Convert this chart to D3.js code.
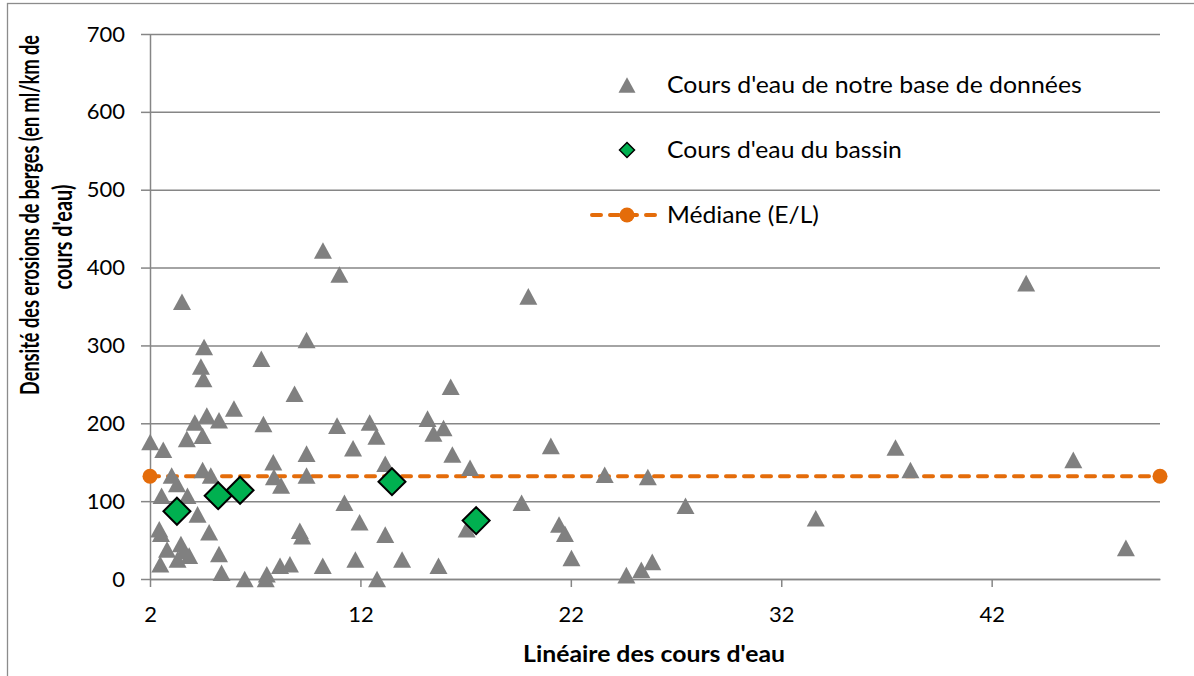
<!DOCTYPE html>
<html>
<head>
<meta charset="utf-8">
<script src="https://cdn.jsdelivr.net/npm/d3@7"></script>
<style>
  body { margin: 0; background: #fff; }
  text { font-family: Lato, 'Open Sans', sans-serif; fill: #000; }
</style>
</head>
<body>
<div id="chart"></div>
<script>
// cours d'eau de notre base de données : [linéaire, densité]
const basePoints = [
  [2.01, 176], [2.63, 166], [3.52, 356], [4.57, 298], [4.42, 273], [4.54, 257],
  [7.29, 283], [8.87, 238], [9.44, 307], [5.99, 219], [4.70, 210], [4.13, 201],
  [5.28, 204], [7.39, 199], [3.75, 180], [4.50, 184], [9.44, 161], [7.86, 150],
  [4.50, 140], [4.89, 133], [3.03, 133], [3.28, 122], [7.89, 131], [8.23, 120],
  [9.44, 133], [2.55, 107], [3.78, 107], [4.26, 83], [2.44, 64], [2.52, 58],
  [4.81, 60], [9.12, 62], [9.23, 55], [2.81, 38], [3.47, 45], [3.59, 36],
  [3.86, 30], [3.31, 25], [2.49, 19], [5.28, 32], [5.40, 8], [6.50, 0],
  [7.55, 6], [7.50, 0], [8.18, 17], [8.65, 19],
  [10.22, 422], [11.00, 391], [16.29, 247], [10.89, 197], [12.44, 201], [12.76, 183],
  [15.19, 206], [15.95, 194], [15.47, 187], [11.65, 168], [16.37, 160], [17.21, 143],
  [13.18, 148], [11.24, 98], [11.96, 73], [13.18, 57], [17.05, 64], [10.21, 17],
  [11.76, 25], [13.98, 25], [15.71, 17], [12.79, 0],
  [19.98, 363], [21.05, 171], [23.61, 134], [25.66, 131], [19.66, 98], [21.44, 70],
  [21.72, 58], [22.03, 27], [24.64, 5], [25.35, 12], [25.87, 22], [27.45, 94],
  [43.64, 380], [37.43, 169], [38.14, 140], [45.88, 153], [33.64, 78], [48.38, 40]
];

// cours d'eau du bassin
const basinPoints = [
  [3.28, 87], [5.24, 107], [6.28, 114], [13.50, 125], [17.50, 75]
];

const medianValue = 132;

const xDomain = [2, 50];
const yDomain = [0, 700];
const xTicks = [2, 12, 22, 32, 42];
const yTicks = [0, 100, 200, 300, 400, 500, 600, 700];

const xTitle = "Linéaire des cours d'eau";
const yTitle = ["Densité des erosions de berges (en ml/km de", "cours d'eau)"];
const legendLabels = ["Cours d'eau de notre base de données", "Cours d'eau du bassin", "Médiane (E/L)"];

const W = 1194, H = 676;
const gray = '#868686';
const orange = '#E46C0A';
const green = '#00B050';

const svg = d3.select('#chart')
  .append('svg')
  .attr('width', W)
  .attr('height', H);

// étire le texte dans son sens de lecture jusqu'à la largeur voulue
function fitText(sel, place, width) {
  sel.each(function (d, i) {
    const len = this.getComputedTextLength();
    const w = typeof width === 'function' ? width(d, i) : width;
    const p = typeof place === 'function' ? place(d, i) : place;
    d3.select(this).attr('transform', `${p} scale(${w / len},1)`);
  });
}

// cadre du graphique
svg.append('rect')
  .attr('x', 7.5)
  .attr('y', 3.5)
  .attr('width', W)
  .attr('height', H + 10)
  .attr('fill', 'none')
  .attr('stroke', '#8c8c8c')
  .attr('stroke-width', 1.3);

const x = d3.scaleLinear().domain(xDomain).range([150, 1160]);
const y = d3.scaleLinear().domain(yDomain).range([579, 34]);

// triangle façon Excel (centré sur sa boîte)
const triangleType = {
  draw(ctx, size) {
    const w = size, h = size * 0.92;
    ctx.moveTo(0, -h / 2);
    ctx.lineTo(w / 2, h / 2);
    ctx.lineTo(-w / 2, h / 2);
    ctx.closePath();
  }
};
const diamondType = {
  draw(ctx, size) {
    const r = size / 2;
    ctx.moveTo(0, -r);
    ctx.lineTo(r, 0);
    ctx.lineTo(0, r);
    ctx.lineTo(-r, 0);
    ctx.closePath();
  }
};

// quadrillage
svg.append('g')
  .attr('transform', `translate(${x.range()[0]},0)`)
  .call(d3.axisLeft(y).tickValues(yTicks).tickSize(-(x.range()[1] - x.range()[0])).tickFormat(''))
  .call(g => g.select('.domain').remove())
  .call(g => g.selectAll('line').attr('stroke', gray).attr('stroke-width', 1.5));

// axe Y
svg.append('g')
  .attr('transform', `translate(${x.range()[0]},0)`)
  .call(d3.axisLeft(y).tickValues(yTicks).tickSizeInner(9).tickSizeOuter(0).tickPadding(16))
  .call(g => g.select('.domain').attr('stroke', gray).attr('stroke-width', 1.5))
  .call(g => g.selectAll('line').attr('stroke', gray).attr('stroke-width', 1.5))
  .call(g => g.selectAll('text').attr('font-size', 22).attr('font-family', 'Lato'));

// axe X
svg.append('g')
  .attr('transform', `translate(0,${y.range()[0]})`)
  .call(d3.axisBottom(x).tickValues(xTicks).tickSizeInner(8).tickSizeOuter(0).tickPadding(19))
  .call(g => g.select('.domain').attr('stroke', gray).attr('stroke-width', 1.5))
  .call(g => g.selectAll('line').attr('stroke', gray).attr('stroke-width', 1.5))
  .call(g => g.selectAll('text').attr('font-size', 22).attr('font-family', 'Lato'));

// titres des axes
svg.append('text')
  .attr('text-anchor', 'middle')
  .attr('font-size', 22)
  .attr('font-weight', 'bold')
  .text(xTitle)
  .call(fitText, 'translate(654,662)', 262);

svg.selectAll('text.ytitle')
  .data(yTitle)
  .enter()
  .append('text')
  .attr('class', 'ytitle')
  .attr('text-anchor', 'middle')
  .attr('font-size', 26)
  .attr('font-weight', 'bold')
  .text(d => d)
  .call(fitText,
    (d, i) => i === 0 ? 'translate(39,215) rotate(-90)' : 'translate(72,237) rotate(-90)',
    (d, i) => i === 0 ? 360 : 105);

// médiane
const medianData = xDomain.map(d => [d, medianValue]);
svg.append('path')
  .datum(medianData)
  .attr('d', d3.line().x(d => x(d[0])).y(d => y(d[1])))
  .attr('fill', 'none')
  .attr('stroke', orange)
  .attr('stroke-width', 4)
  .attr('stroke-linecap', 'round')
  .attr('stroke-dasharray', '9 9');

svg.append('g')
  .selectAll('circle')
  .data(medianData)
  .enter()
  .append('circle')
  .attr('cx', d => x(d[0]))
  .attr('cy', d => y(d[1]))
  .attr('r', 7.5)
  .attr('fill', orange);

// base de données
svg.append('g')
  .selectAll('path')
  .data(basePoints)
  .enter()
  .append('path')
  .attr('transform', d => `translate(${x(d[0])},${y(d[1])})`)
  .attr('d', d3.symbol().type(triangleType).size(18))
  .attr('fill', '#808080');

// bassin
svg.append('g')
  .selectAll('path')
  .data(basinPoints)
  .enter()
  .append('path')
  .attr('transform', d => `translate(${x(d[0])},${y(d[1])})`)
  .attr('d', d3.symbol().type(diamondType).size(27))
  .attr('fill', green)
  .attr('stroke', '#000')
  .attr('stroke-width', 2)
  .attr('stroke-linejoin', 'miter');

// légende
const legend = svg.append('g');
const legendWidths = [415, 235, 152];
const legendY = [85, 150, 215];

legend.append('path')
  .attr('transform', `translate(627,${legendY[0]})`)
  .attr('d', d3.symbol().type(triangleType).size(17))
  .attr('fill', '#808080');

legend.append('path')
  .attr('transform', `translate(627,${legendY[1]})`)
  .attr('d', d3.symbol().type(diamondType).size(15))
  .attr('fill', green)
  .attr('stroke', '#000')
  .attr('stroke-width', 1.5);

legend.append('line')
  .attr('x1', 592).attr('x2', 656)
  .attr('y1', legendY[2]).attr('y2', legendY[2])
  .attr('stroke', orange)
  .attr('stroke-width', 4)
  .attr('stroke-linecap', 'round')
  .attr('stroke-dasharray', '9 9');

legend.append('circle')
  .attr('cx', 627)
  .attr('cy', legendY[2])
  .attr('r', 7.5)
  .attr('fill', orange);

legend.selectAll('text.lbl')
  .data(legendLabels)
  .enter()
  .append('text')
  .attr('class', 'lbl')
  .attr('font-size', 24)
  .text(d => d)
  .call(fitText, (d, i) => `translate(667,${legendY[i] + 7.5})`, (d, i) => legendWidths[i]);
</script>
</body>
</html>
